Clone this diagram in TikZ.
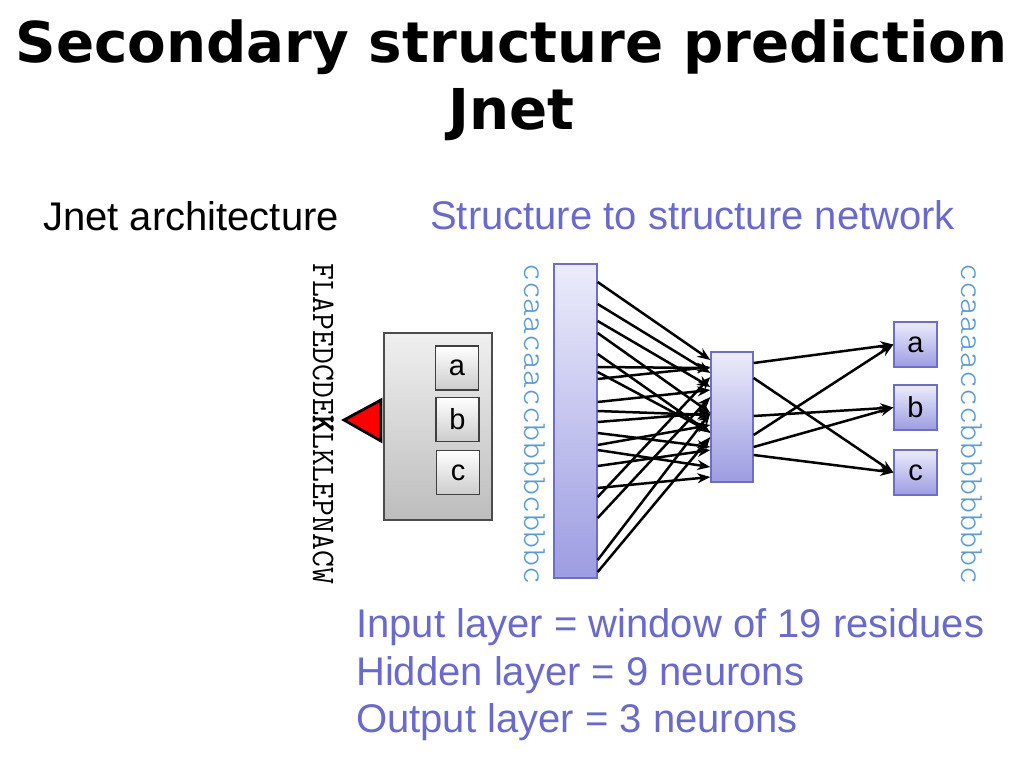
\documentclass[tikz,border=0pt]{standalone}
\usepackage{fontspec}
\usetikzlibrary{arrows.meta}
\newfontfamily\titlefont{DejaVu Sans}
\newfontfamily\arialfont{Liberation Sans}
\newfontfamily\monofont{Latin Modern Mono}
\newfontfamily\monoboldfont{Latin Modern Mono}[FakeBold=3]
\definecolor{purptext}{HTML}{6A6ACD}
\definecolor{bluetext}{HTML}{5B9BD5}
\definecolor{purpborder}{HTML}{6E6EC4}
\definecolor{purptop}{HTML}{ECECFB}
\definecolor{purpbot}{HTML}{9C9CE2}
\tikzset{
  layerbox/.style={draw=purpborder, line width=1.3pt, top color=purptop, bottom color=purpbot, inner sep=0pt},
  graybox/.style={draw=black!70, line width=1.2pt, top color=black!6, bottom color=black!26, inner sep=0pt},
  letterbox/.style={draw=black!75, line width=1.2pt, top color=white, bottom color=black!20, inner sep=0pt,
     minimum width=43pt, minimum height=44pt, font=\arialfont\fontsize{29}{30}\selectfont},
  outbox/.style={layerbox, minimum width=43pt, minimum height=45pt, font=\arialfont\fontsize{29}{30}\selectfont},
  arr/.style={line width=2.5pt, -{Stealth[length=13pt,width=10pt]}},
  bodytext/.style={font=\arialfont\fontsize{40}{48}\selectfont, inner sep=0pt, anchor=base west},
}
\begin{document}
\begin{tikzpicture}[x=1pt,y=-1pt]
\useasboundingbox (0,0) rectangle (1024,768);
% titles
\node[font=\titlefont\bfseries\fontsize{56.3}{60}\selectfont, inner sep=0pt, anchor=base] (t1) at (511.5,63) {Secondary structure prediction};
\node[font=\titlefont\bfseries\fontsize{56.3}{60}\selectfont, inner sep=0pt, anchor=base] (t2) at (511.5,129) {Jnet};
\node[bodytext] (arch) at (43,230) {Jnet architecture};
\node[bodytext, text=purptext] (s2s) at (430,229) {Structure to structure network};
% sequence
\node[rotate=-90, anchor=base west, inner sep=0pt, font=\monofont\fontsize{32.8}{34}\selectfont] (seq) at (313,263) {FLAPEDCDE{\monoboldfont K}LKLEPNACW};
% gray box with letters
\node[graybox, minimum width=108pt, minimum height=187pt] (gbox) at (438,426.5) {};
\node[letterbox] (ga) at (457,368) {a};
\node[letterbox] (gb) at (457.5,419.5) {b};
\node[letterbox] (gc) at (458,472.5) {c};
\draw[fill=red, line width=2.8pt, line join=miter] (344,420) -- (381,400) -- (381,441) -- cycle;
% blue structure strings
\node[rotate=-90, anchor=base west, inner sep=0pt, text=bluetext, font=\ttfamily\fontseries{l}\fontsize{34}{36}\selectfont] (bs1) at (524,263) {ccaacaaccbbbbcbbbc};
\node[rotate=-90, anchor=base west, inner sep=0pt, text=bluetext, font=\ttfamily\fontseries{l}\fontsize{34}{36}\selectfont] (bs2) at (961,263) {ccaaaacccbbbbbbbbc};
% layers
\node[layerbox, minimum width=43pt, minimum height=314pt] (inl) at (575.5,421) {};
\node[layerbox, minimum width=42pt, minimum height=130pt] (hid) at (732,417) {};
\node[outbox] (oa) at (915.5,344.5) {a};
\node[outbox] (ob) at (915.5,407.5) {b};
\node[outbox] (oc) at (915.5,472.5) {c};
% input -> hidden
\foreach \a/\b in {282/360, 304/373, 321/387, 333/413, 354/433, 367/368, 379/367, 372/432, 402/390, 411/415, 422/413, 433/447, 445/425, 450/467, 466/450, 488/477, 497/377, 518/397, 560/413, 572/437}
  \draw[arr] (inl.east |- 0,\a) -- (hid.west |- 0,\b);
% hidden -> output
\draw[arr] (hid.east |- 0,363) -- (oa.west);
\draw[arr] (hid.east |- 0,378) -- (oc.west);
\draw[arr] (hid.east |- 0,416) -- (ob.west);
\draw[arr] (hid.east |- 0,435) -- (oa.west);
\draw[arr] (hid.east |- 0,447) -- (ob.west);
\draw[arr] (hid.east |- 0,455) -- (oc.west);
% bottom text
\node[bodytext, text=purptext] (l1) at (356,637) {Input layer = window of 19 residues};
\node[bodytext, text=purptext] (l2) at (356,685) {Hidden layer = 9 neurons};
\node[bodytext, text=purptext] (l3) at (356,732) {Output layer = 3 neurons};
\end{tikzpicture}
\end{document}
